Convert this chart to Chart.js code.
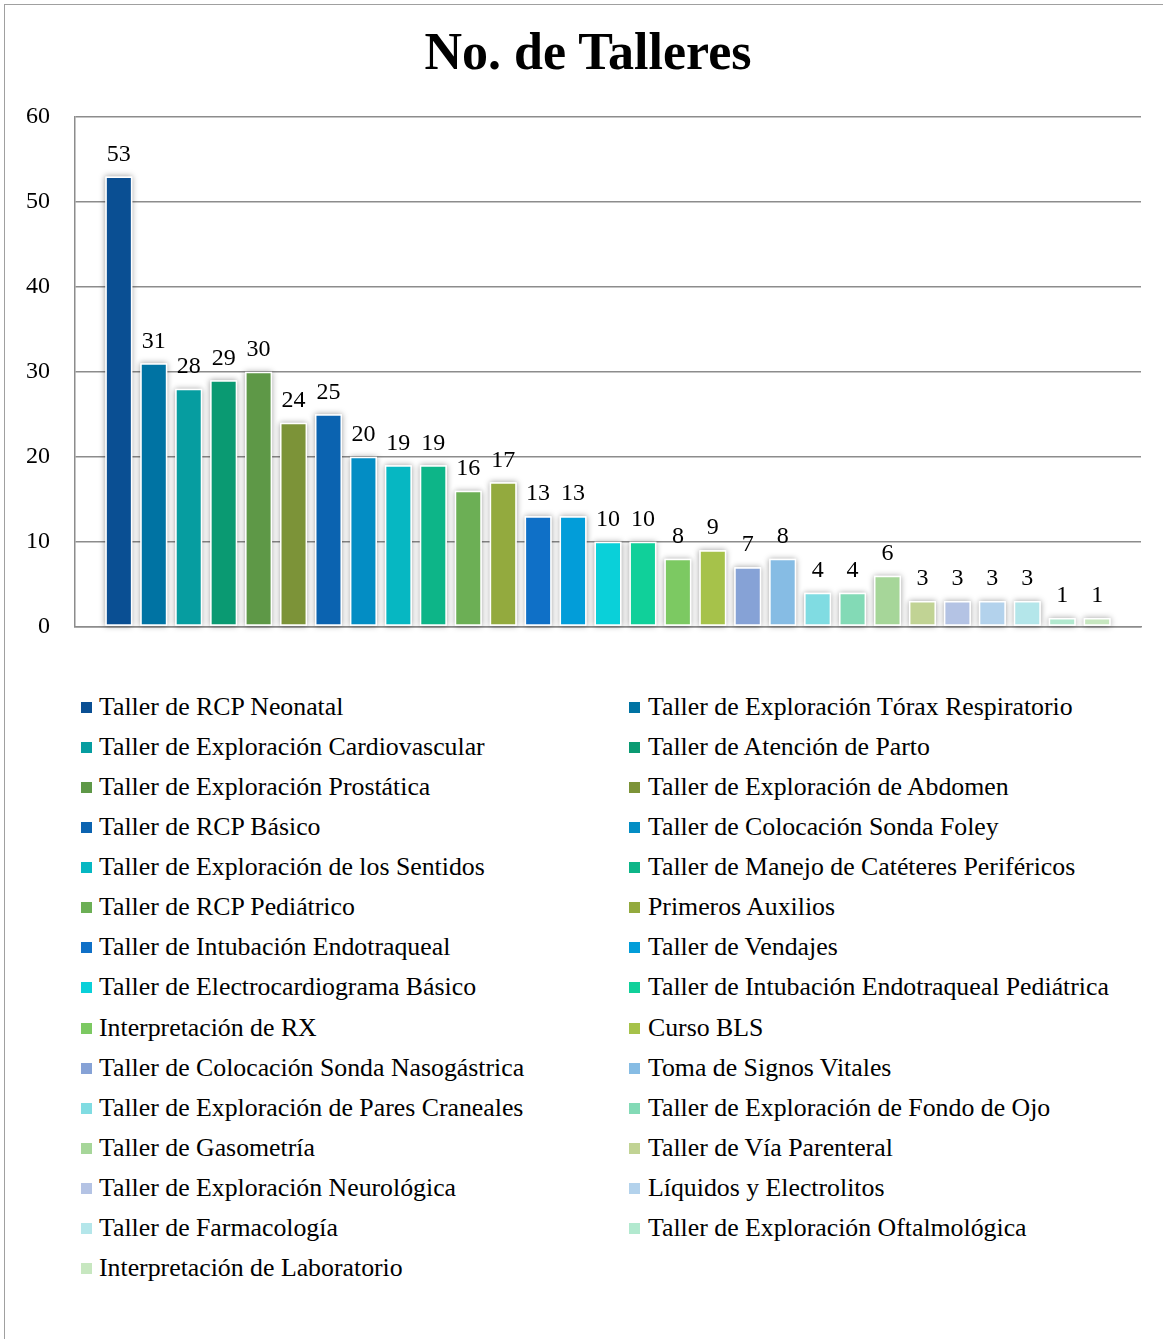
<!DOCTYPE html>
<html>
<head>
<meta charset="utf-8">
<script src="https://cdn.jsdelivr.net/npm/chart.js@4"></script>
<style>
  html, body { margin:0; padding:0; background:#fff; overflow:hidden; }
  body { width:1163px; height:1339px; position:relative; font-family:"Liberation Serif", serif; }
  #frame { position:absolute; left:4px; top:4px; width:1200px; height:1400px; border:1.5px solid #a0a0a0; box-sizing:border-box; }
  #c { position:absolute; left:0; top:0; }
  #title { position:absolute; left:0; top:22px; width:1176px; text-align:center; font-size:52px; line-height:60px; font-weight:bold; color:#000; }
  .lg { position:absolute; font-size:25.8px; line-height:30px; color:#000; white-space:nowrap; }
  .lg .bx { position:absolute; width:11px; height:11px; top:10px; }
  .lg .tx { position:absolute; top:0; }
</style>
</head>
<body>
<div id="frame"></div>
<canvas id="c" width="1163" height="666"></canvas>
<div id="title"></div>
<div id="legend"></div>
<script>
const titleText = "No. de Talleres";
const categories = [
  "Taller de RCP Neonatal",
  "Taller de Exploración Tórax Respiratorio",
  "Taller de Exploración Cardiovascular",
  "Taller de Atención de Parto",
  "Taller de Exploración Prostática",
  "Taller de Exploración de Abdomen",
  "Taller de RCP Básico",
  "Taller de Colocación Sonda Foley",
  "Taller de Exploración de los Sentidos",
  "Taller de Manejo de Catéteres Periféricos",
  "Taller de RCP Pediátrico",
  "Primeros Auxilios",
  "Taller de Intubación Endotraqueal",
  "Taller de Vendajes",
  "Taller de Electrocardiograma Básico",
  "Taller de Intubación Endotraqueal Pediátrica",
  "Interpretación de RX",
  "Curso BLS",
  "Taller de Colocación Sonda Nasogástrica",
  "Toma de Signos Vitales",
  "Taller de Exploración de Pares Craneales",
  "Taller de Exploración de Fondo de Ojo",
  "Taller de Gasometría",
  "Taller de Vía Parenteral",
  "Taller de Exploración Neurológica",
  "Líquidos y Electrolitos",
  "Taller de Farmacología",
  "Taller de Exploración Oftalmológica",
  "Interpretación de Laboratorio"
];
const values = [53,31,28,29,30,24,25,20,19,19,16,17,13,13,10,10,8,9,7,8,4,4,6,3,3,3,3,1,1];
const colors = [
  "#0A4F93","#0073A3","#069DA0","#0A9A72","#5E9847","#7C9338","#0B63B0","#038DC4",
  "#06B7C2","#0DB588","#6CAF55","#93AA3E","#0F70C7","#029DD9","#0AD0D9","#10D09A",
  "#7CC962","#A6C24A","#86A2D6","#86BCE4","#80DCE2","#83DAB6","#A6D699","#C1D394",
  "#B4C3E4","#B3D2EC","#B4E6EA","#B2E9CF","#C7E7C0"
];
const yTicks = [0,10,20,30,40,50,60];

document.getElementById("title").textContent = titleText;

const datasets = categories.map((name, i) => ({
  label: name,
  data: [values[i]],
  backgroundColor: colors[i],
  borderColor: "#ffffff",
  borderWidth: 1.5,
  borderSkipped: false,
  categoryPercentage: 0.9505,
  barPercentage: 0.773
}));

const shadowPlugin = {
  id: "shadowPlugin",
  beforeDatasetsDraw(chart) {
    const ctx = chart.ctx;
    ctx.save();
    ctx.shadowColor = "rgba(0,0,0,0.38)";
    ctx.shadowBlur = 6;
    ctx.fillStyle = "#ffffff";
    chart.data.datasets.forEach((ds, i) => {
      const meta = chart.getDatasetMeta(i);
      meta.data.forEach(el => {
        const p = el.getProps(["x","y","base","width"], true);
        ctx.fillRect(p.x - p.width/2, p.y, p.width, p.base - p.y);
      });
    });
    ctx.restore();
  }
};

const valueLabels = {
  id: "valueLabels",
  afterDatasetsDraw(chart) {
    const ctx = chart.ctx;
    ctx.save();
    ctx.font = "24px 'Liberation Serif'";
    ctx.fillStyle = "#000";
    ctx.textAlign = "center";
    ctx.textBaseline = "middle";
    chart.data.datasets.forEach((ds, i) => {
      const meta = chart.getDatasetMeta(i);
      meta.data.forEach((el, j) => {
        const p = el.getProps(["x","y"], true);
        ctx.fillText(String(ds.data[j]), p.x, p.y - 22);
      });
    });
    ctx.restore();
  }
};

const chart = new Chart(document.getElementById("c"), {
  type: "bar",
  data: { labels: [""], datasets },
  options: {
    responsive: false,
    devicePixelRatio: 1,
    animation: false,
    layout: { padding: { left: 12, right: 22, top: 117, bottom: 2 } },
    plugins: {
      legend: { display: false },
      tooltip: { enabled: false },
      title: { display: false }
    },
    scales: {
      x: {
        grid: { display: false },
        ticks: { display: false },
        border: { display: true, color: "#8c8c8c", width: 1.5 },
        afterFit(s) { s.height = 0; }
      },
      y: {
        min: 0, max: 60,
        afterBuildTicks(s) { s.ticks = yTicks.map(v => ({ value: v })); },
        ticks: {
          padding: 25,
          color: "#000",
          font: { family: "'Liberation Serif'", size: 24 }
        },
        grid: { color: "#8c8c8c", lineWidth: 1.5, drawTicks: false },
        border: { display: true, color: "#8c8c8c", width: 1.5 },
        afterFit(s) { s.width = 63; }
      }
    }
  },
  plugins: [shadowPlugin, valueLabels]
});

// HTML legend in two columns, built from the chart's datasets
const legend = document.getElementById("legend");
chart.data.datasets.forEach((ds, i) => {
  const col = i % 2, row = Math.floor(i / 2);
  const item = document.createElement("div");
  item.className = "lg";
  item.style.left = (col === 0 ? 81 : 629) + "px";
  item.style.top = (692 + row * 40.07) + "px";
  const bx = document.createElement("span");
  bx.className = "bx";
  bx.style.left = "0px";
  bx.style.background = ds.backgroundColor;
  const tx = document.createElement("span");
  tx.className = "tx";
  tx.style.left = (col === 0 ? 18 : 19) + "px";
  tx.textContent = ds.label;
  item.appendChild(bx);
  item.appendChild(tx);
  legend.appendChild(item);
});
</script>
</body>
</html>
